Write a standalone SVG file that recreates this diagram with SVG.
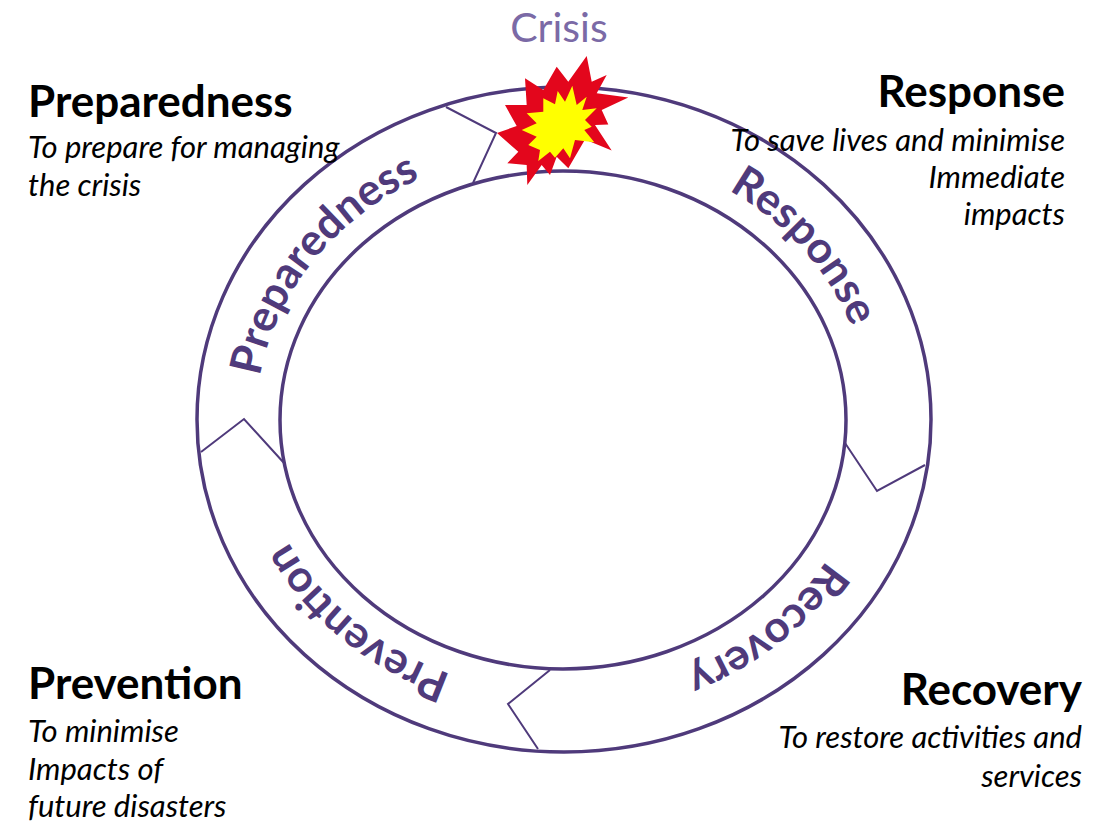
<svg xmlns="http://www.w3.org/2000/svg" width="1112" height="822" viewBox="0 0 1112 822">
<style>
.ring{fill:none;stroke:#4f3a7b;stroke-width:3.5}
.sep{fill:none;stroke:#4f3a7b;stroke-width:2}
.arc{font-family:Lato,"Open Sans",sans-serif;font-weight:bold;font-size:44px;fill:#4f3a7b}
.head{font-family:Lato,"Open Sans",sans-serif;font-weight:bold;font-size:44px;fill:#000}
.desc{font-family:Lato,"Open Sans",sans-serif;font-style:italic;font-size:31px;fill:#000}
.crisis{font-family:Lato,"Open Sans",sans-serif;font-size:41px;fill:#7b6aa6}
</style>
<defs>
<path id="pPrep" d="M287.1,539.7 A307,273 0 0 1 584.4,147.7"/>
<path id="pResp" d="M528.2,148.7 A307,273 0 0 1 844.5,528.8"/>
<path id="pReco" d="M861.5,356.3 A307,273 0 0 1 475.8,681.8"/>
<path id="pPrev" d="M645,683.1 A307,273 0 0 1 265.8,351.6"/>
</defs>
<g id="cycle">
<ellipse class="ring" cx="564" cy="419.5" rx="367" ry="332.5"/>
<ellipse class="ring" cx="563" cy="420" rx="283" ry="249"/>
</g>
<g id="connectors">
<polyline class="sep" points="446,107 496,133 473,183"/>
<polyline class="sep" points="201,452 244,419 284,463"/>
<polyline class="sep" points="845,443 877,491 925,465"/>
<polyline class="sep" points="550,670 508,704 538,749"/>
</g>
<g id="ring-labels">
<text class="arc" text-anchor="middle"><textPath href="#pPrep" startOffset="50%">Preparedness</textPath></text>
<text class="arc" text-anchor="middle"><textPath href="#pResp" startOffset="50%">Response</textPath></text>
<text class="arc" text-anchor="middle"><textPath href="#pReco" startOffset="50%">Recovery</textPath></text>
<text class="arc" text-anchor="middle"><textPath href="#pPrev" startOffset="50%">Prevention</textPath></text>
</g>
<g id="crisis">
<polygon fill="#e3061c" points="586.7,56 591.7,81.7 606.7,75 596.7,93.3 628.3,97.5 601.7,110 608.3,124.5 595,125 611.7,150.5 585,139.5 568.3,168.3 556.7,156.7 550,175 541.7,165 527.3,185 526.7,165 507.3,163.3 518.3,151.7 497,133 516.7,126 505,105 526.7,105 525,78.3 543.3,90 556.7,66.7 568.3,81.7"/>
<polygon fill="#ffff00" points="572.3,85.7 576.7,105 586.7,96.7 582.3,110 596.7,108.3 585,120 591.7,126.7 584.3,130 594.3,142.3 575,140 570,158.3 563.3,148.3 555,157.7 550,151.7 538.3,161 540,150 528.3,145 536.7,136.7 521.7,130 536.7,123.3 526.7,113.3 543.3,111.7 543.3,98.3 555,104.3 557.7,91 565,101.7"/>
<text class="crisis" x="559" y="42" text-anchor="middle">Crisis</text>
</g>
<g id="preparedness">
<text class="head" x="28" y="117">Preparedness</text>
<text class="desc" x="28" y="158">To prepare for managing</text>
<text class="desc" x="28" y="196">the crisis</text>
</g>
<g id="response">
<text class="head" x="1065" y="107" text-anchor="end">Response</text>
<text class="desc" x="1065" y="151" text-anchor="end">To save lives and minimise</text>
<text class="desc" x="1065" y="188" text-anchor="end">Immediate</text>
<text class="desc" x="1065" y="225" text-anchor="end">impacts</text>
</g>
<g id="prevention">
<text class="head" x="28" y="699">Prevention</text>
<text class="desc" x="28" y="742">To minimise</text>
<text class="desc" x="28" y="780">Impacts of</text>
<text class="desc" x="28" y="817">future disasters</text>
</g>
<g id="recovery">
<text class="head" x="1082" y="705" text-anchor="end">Recovery</text>
<text class="desc" x="1082" y="748" text-anchor="end">To restore activities and</text>
<text class="desc" x="1082" y="787" text-anchor="end">services</text>
</g>
</svg>
